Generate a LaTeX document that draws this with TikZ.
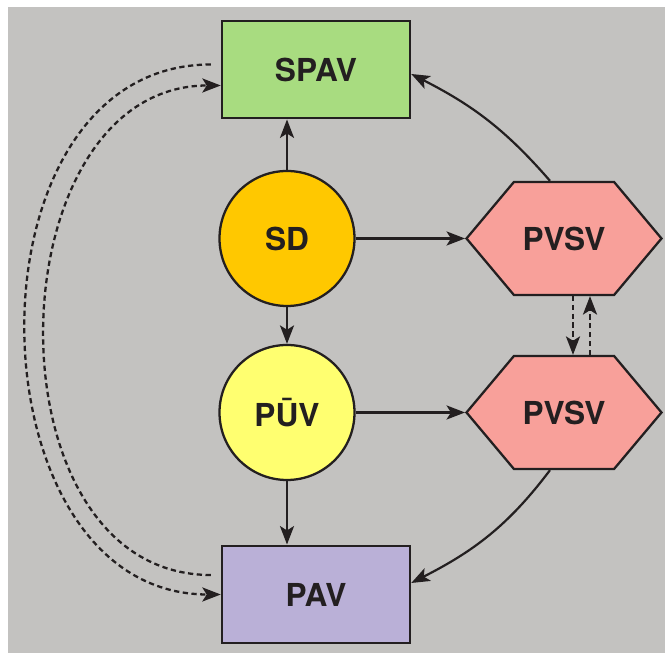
\documentclass[tikz,border=0pt]{standalone}
\usepackage{fontspec}
\setmainfont{TeX Gyre Heros}
\usetikzlibrary{calc, shapes.symbols, arrows.meta}

\definecolor{bggray}{RGB}{195,194,192}
\definecolor{inkline}{RGB}{35,31,32}
\definecolor{spavgreen}{RGB}{168,220,128}
\definecolor{sdorange}{RGB}{255,200,0}
\definecolor{puvyellow}{RGB}{255,255,112}
\definecolor{pvsvpink}{RGB}{248,160,154}
\definecolor{pavpurple}{RGB}{186,176,215}

\begin{document}
\begin{tikzpicture}[>={Stealth[length=10.5pt, width=8pt, inset=2.5pt]},
    every node/.style={font=\fontsize{18}{20}\selectfont\bfseries, text=inkline},
    box/.style={draw=inkline, line width=1.4pt, minimum width=3.76cm, minimum height=1.95cm},
    disc/.style={circle, draw=inkline, line width=1.3pt, minimum size=2.7cm, inner sep=0pt},
    hexa/.style={signal, signal to=west and east, signal pointer angle=100,
        draw=inkline, line width=1.3pt, fill=pvsvpink, minimum width=3.9cm, minimum height=2.26cm},
    link/.style={->, draw=inkline, line width=1.25pt},
    dlink/.style={->, draw=inkline, line width=1.3pt, dash pattern=on 3pt off 2pt}]

    % =================================================================
    % 1. BACKGROUND
    % =================================================================
    \useasboundingbox (0,0) rectangle (13.3,13.06);
    \fill[bggray] (0.16,0) rectangle (13.3,12.92);

    % =================================================================
    % 2. NODES
    % =================================================================
    \node[box, fill=spavgreen] (SPAV) at (6.32, 11.67) {SPAV};
    \node[disc, fill=sdorange] (SD) at (5.74, 8.29) {SD};
    \node[disc, fill=puvyellow] (PUV) at (5.74, 4.81) {PŪV};
    \node[box, fill=pavpurple] (PAV) at (6.32, 1.17) {PAV};
    \node[hexa] (PVSVa) at (11.28, 8.29) {PVSV};
    \node[hexa] (PVSVb) at (11.28, 4.81) {PVSV};

    % =================================================================
    % 3. SOLID CONNECTORS
    % =================================================================
    \draw[link] (SD.north) -- (SD.north |- SPAV.south);
    \draw[link] (SD.east) -- (PVSVa.west);
    \draw[link] (SD.south) -- (PUV.north);
    \draw[link] (PUV.south) -- (PUV.south |- PAV.north);
    \draw[link] (PUV.east) -- (PVSVb.west);

    % Curved links from the hexagons
    \draw[link] ($(PVSVa.north)+(-0.28,0)$) to[out=131, in=-27] ([yshift=-0.09cm]SPAV.east);
    \draw[link] ($(PVSVb.south)+(-0.28,0)$) to[out=-127, in=27] ([yshift=0.23cm]PAV.east);

    % =================================================================
    % 4. DASHED CONNECTORS
    % =================================================================
    \draw[dlink] ([xshift=-0.2cm, yshift=0.1cm]SPAV.west)
        to[out=180, in=180, looseness=1.22] (PAV.west);
    \draw[dlink] ([xshift=-0.2cm, yshift=0.39cm]PAV.west)
        to[out=180, in=180, looseness=1.19] ([yshift=-0.32cm]SPAV.west);

    \draw[dlink] ([xshift=0.18cm]PVSVa.south) -- ([xshift=0.18cm]PVSVb.north);
    \draw[dlink] ([xshift=0.52cm]PVSVb.north) -- ([xshift=0.52cm]PVSVa.south);

\end{tikzpicture}
\end{document}
